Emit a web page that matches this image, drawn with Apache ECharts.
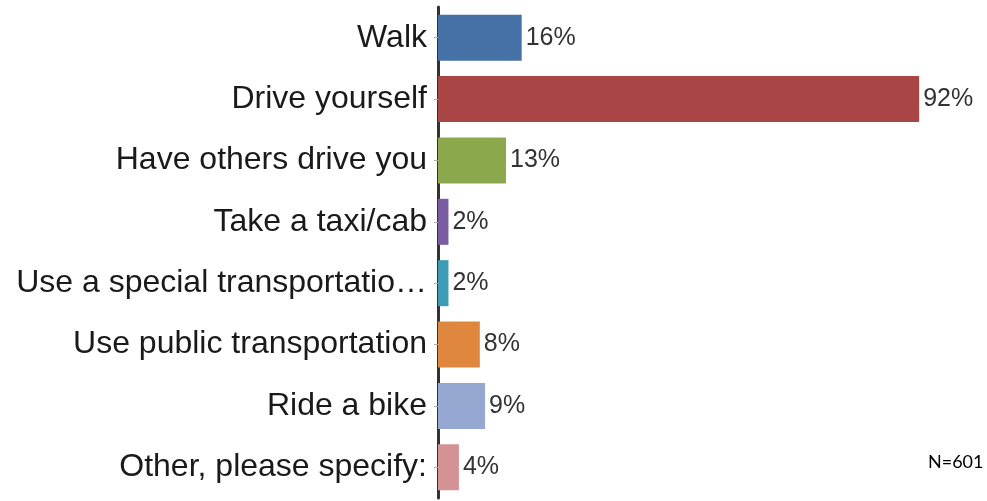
<!DOCTYPE html>
<html>
<head>
<meta charset="utf-8">
<script src="https://cdn.jsdelivr.net/npm/echarts@6/dist/echarts.min.js"></script>
<style>
  html, body { margin: 0; padding: 0; background: #fff; }
  #chart { width: 987px; height: 501px; }
</style>
</head>
<body>
<div id="chart"></div>
<script>
// survey categories, top to bottom
var categories = [
  "Walk",
  "Drive yourself",
  "Have others drive you",
  "Take a taxi/cab",
  "Use a special transportatio\u2026",
  "Use public transportation",
  "Ride a bike",
  "Other, please specify:"
];
// percent of respondents
var percents = [16, 92, 13, 2, 2, 8, 9, 4];
var barColors = ["#4571a6", "#a94645", "#8ba84c", "#7a5ca0", "#3e9bb4", "#df873f", "#94a8d1", "#d39394"];
var sampleNote = "N=601";

var labelFont = "'Liberation Sans', Arial, sans-serif";

var chart = echarts.init(document.getElementById("chart"));
chart.setOption({
  animation: false,
  color: barColors,
  grid: { left: 438, right: 26, top: 7, height: 491 },
  xAxis: {
    type: "value",
    min: 0,
    max: 100,
    show: false
  },
  yAxis: {
    type: "category",
    data: categories,
    inverse: true,
    axisLine: { show: true, lineStyle: { color: "#333", width: 3 } },
    axisTick: { show: true, length: 4, alignWithLabel: true, lineStyle: { color: "#aaa" } },
    axisLabel: {
      margin: 11,
      color: "#1a1a1a",
      fontSize: 32,
      fontFamily: labelFont
    },
    splitLine: { show: false }
  },
  series: [
    {
      type: "bar",
      data: percents,
      colorBy: "data",
      barCategoryGap: "25%",
      label: {
        show: true,
        position: "right",
        distance: 4,
        formatter: "{c}%",
        color: "#333",
        fontSize: 25,
        fontFamily: labelFont
      }
    }
  ],
  graphic: [
    {
      type: "text",
      left: 928,
      top: 453,
      style: {
        text: sampleNote,
        fill: "#000",
        font: "18px Lato, sans-serif"
      }
    }
  ]
});
</script>
</body>
</html>
